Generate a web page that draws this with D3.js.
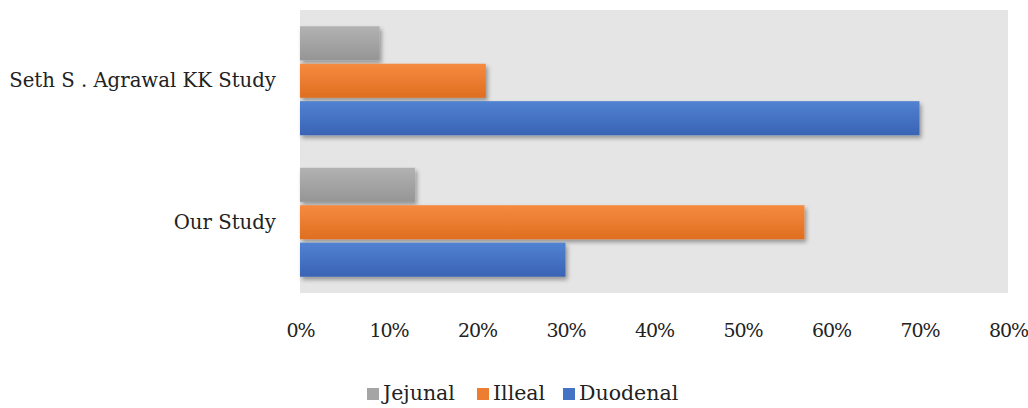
<!DOCTYPE html>
<html><head><meta charset="utf-8">
<script src="https://cdn.jsdelivr.net/npm/d3@7/dist/d3.min.js"></script>
<style>body{margin:0;background:#fff}svg{display:block}</style>
</head><body>
<svg id="chart" width="1028" height="408"></svg>
<script>
const categories = ["Seth S . Agrawal KK Study", "Our Study"];
const seriesNames = ["Jejunal", "Illeal", "Duodenal"];
const jejunal = [0.09, 0.13];
const illeal = [0.21, 0.57];
const duodenal = [0.70, 0.30];
const tickValues = [0, 0.1, 0.2, 0.3, 0.4, 0.5, 0.6, 0.7, 0.8];
const colors = ["#a5a5a5", "#ed7d31", "#4472c4"];
const light = ["#b2b2b2", "#f58b40", "#5282d2"];
const dark = ["#959595", "#df6e20", "#3963b5"];

const values = [jejunal, illeal, duodenal];
const svg = d3.select("#chart");
const font = "'DejaVu Serif', serif";
const L = 300, R = 1008, T = 10, B = 293;

const x = d3.scaleLinear().domain([0, 0.8]).range([L, R]);
const y = d3.scaleBand().domain(categories).range([T, B]).paddingInner(0.23).paddingOuter(0.115);
const ys = d3.scaleBand().domain(seriesNames).range([0, y.bandwidth()]).paddingInner(0.09);

const defs = svg.append("defs");
const f = defs.append("filter").attr("id", "sh").attr("x", "-10%").attr("y", "-30%").attr("width", "130%").attr("height", "180%");
f.append("feDropShadow").attr("dx", 2).attr("dy", 3).attr("stdDeviation", 2).attr("flood-color", "#000").attr("flood-opacity", 0.35);
seriesNames.forEach((s, i) => {
  const g = defs.append("linearGradient").attr("id", "g" + i).attr("x1", 0).attr("y1", 0).attr("x2", 0).attr("y2", 1);
  g.append("stop").attr("offset", "0%").attr("stop-color", light[i]);
  g.append("stop").attr("offset", "100%").attr("stop-color", dark[i]);
});

svg.append("rect").attr("x", L).attr("y", T).attr("width", R - L).attr("height", B - T).attr("fill", "#e5e5e5");

const groups = svg.append("g").selectAll("g").data(categories).join("g")
  .attr("transform", d => `translate(0,${y(d)})`);
seriesNames.forEach((s, i) => {
  groups.append("rect")
    .attr("x", x(0))
    .attr("y", ys(s))
    .attr("height", ys.bandwidth())
    .attr("width", (d, j) => x(values[i][j]) - x(0))
    .attr("fill", `url(#g${i})`)
    .attr("filter", "url(#sh)");
});

// y axis labels
const yAxis = d3.axisLeft(y).tickSize(0).tickPadding(24);
const ya = svg.append("g").attr("transform", `translate(${L},0)`).call(yAxis);
ya.select(".domain").remove();
ya.selectAll("text").attr("font-family", font).attr("font-size", 19.7).attr("fill", "#222");

// x axis
const xAxis = d3.axisBottom(x).tickValues(tickValues).tickFormat(d3.format(".0%")).tickSize(0).tickPadding(31);
const xa = svg.append("g").attr("transform", `translate(0,${B})`).call(xAxis);
xa.select(".domain").remove();
xa.selectAll("text").attr("font-family", font).attr("font-size", 19).attr("letter-spacing", "-1px").attr("fill", "#222");

// legend
const legendX = [367, 477, 563];
const lg = svg.append("g");
seriesNames.forEach((s, i) => {
  lg.append("rect").attr("x", legendX[i]).attr("y", 388).attr("width", 12).attr("height", 12).attr("fill", colors[i]);
  lg.append("text").attr("x", legendX[i] + 16).attr("y", 400).text(s)
    .attr("font-family", font).attr("font-size", 20.5).attr("fill", "#222");
});
</script>
</body></html>
